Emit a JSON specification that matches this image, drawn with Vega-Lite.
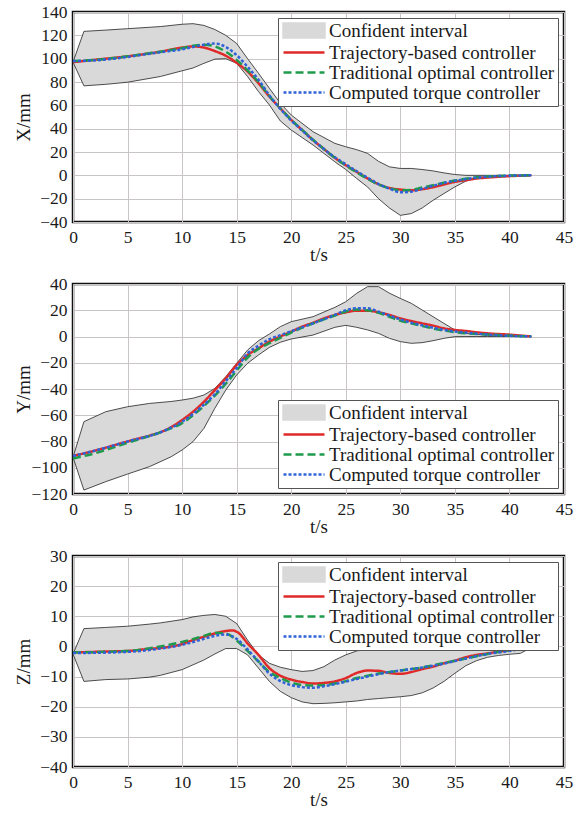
{
  "$schema": "https://vega.github.io/schema/vega-lite/v6.json",
  "background": "white",
  "padding": {"top": 1, "left": 12, "right": 4, "bottom": 0},
  "autosize": {"type": "pad"},
  "spacing": 62,
  "bounds": "flush",
  "datasets": {
    "bx": [
      {"t":0,"lo":97,"hi":97,"s":"Confident interval"},
      {"t":1,"lo":76.7,"hi":123.4,"s":"Confident interval"},
      {"t":3,"lo":78,"hi":124.5,"s":"Confident interval"},
      {"t":5,"lo":79.8,"hi":125.7,"s":"Confident interval"},
      {"t":8,"lo":84.7,"hi":127.5,"s":"Confident interval"},
      {"t":10,"lo":89.6,"hi":129.5,"s":"Confident interval"},
      {"t":11,"lo":92,"hi":130,"s":"Confident interval"},
      {"t":12,"lo":96,"hi":128.5,"s":"Confident interval"},
      {"t":13,"lo":99.6,"hi":125,"s":"Confident interval"},
      {"t":14,"lo":100,"hi":120,"s":"Confident interval"},
      {"t":15,"lo":96,"hi":113,"s":"Confident interval"},
      {"t":16,"lo":84.7,"hi":100,"s":"Confident interval"},
      {"t":17,"lo":71.8,"hi":87.5,"s":"Confident interval"},
      {"t":18,"lo":60.3,"hi":74.6,"s":"Confident interval"},
      {"t":19,"lo":46.6,"hi":61.8,"s":"Confident interval"},
      {"t":20,"lo":38.8,"hi":51.7,"s":"Confident interval"},
      {"t":22,"lo":26,"hi":37.4,"s":"Confident interval"},
      {"t":24,"lo":11.6,"hi":27.4,"s":"Confident interval"},
      {"t":25,"lo":5,"hi":24.5,"s":"Confident interval"},
      {"t":26,"lo":-2.7,"hi":22,"s":"Confident interval"},
      {"t":27,"lo":-10,"hi":18.8,"s":"Confident interval"},
      {"t":28,"lo":-20,"hi":12,"s":"Confident interval"},
      {"t":29,"lo":-28,"hi":7.3,"s":"Confident interval"},
      {"t":30,"lo":-34.3,"hi":5.9,"s":"Confident interval"},
      {"t":31,"lo":-32.8,"hi":5.9,"s":"Confident interval"},
      {"t":32,"lo":-28,"hi":5,"s":"Confident interval"},
      {"t":33,"lo":-21.4,"hi":3.8,"s":"Confident interval"},
      {"t":34,"lo":-15.6,"hi":2.1,"s":"Confident interval"},
      {"t":35,"lo":-9.9,"hi":0.7,"s":"Confident interval"},
      {"t":36,"lo":-5,"hi":0,"s":"Confident interval"},
      {"t":37,"lo":-2.2,"hi":0,"s":"Confident interval"},
      {"t":38,"lo":-0.8,"hi":0,"s":"Confident interval"},
      {"t":40,"lo":0,"hi":0,"s":"Confident interval"},
      {"t":42,"lo":0,"hi":0,"s":"Confident interval"}
    ],
    "lx": [
      {"t":0,"s":"Trajectory-based controller","v":97},
      {"t":2,"s":"Trajectory-based controller","v":99},
      {"t":5,"s":"Trajectory-based controller","v":102},
      {"t":8,"s":"Trajectory-based controller","v":106},
      {"t":10,"s":"Trajectory-based controller","v":109.5},
      {"t":11,"s":"Trajectory-based controller","v":110.5},
      {"t":12,"s":"Trajectory-based controller","v":109.5},
      {"t":13,"s":"Trajectory-based controller","v":106.5},
      {"t":14,"s":"Trajectory-based controller","v":102.5},
      {"t":15,"s":"Trajectory-based controller","v":96.5},
      {"t":16,"s":"Trajectory-based controller","v":89},
      {"t":17,"s":"Trajectory-based controller","v":79},
      {"t":18,"s":"Trajectory-based controller","v":67.5},
      {"t":19,"s":"Trajectory-based controller","v":57.5},
      {"t":20,"s":"Trajectory-based controller","v":47.5},
      {"t":21,"s":"Trajectory-based controller","v":38.8},
      {"t":22,"s":"Trajectory-based controller","v":30.2},
      {"t":23,"s":"Trajectory-based controller","v":22.5},
      {"t":24,"s":"Trajectory-based controller","v":15},
      {"t":25,"s":"Trajectory-based controller","v":8.7},
      {"t":26,"s":"Trajectory-based controller","v":3},
      {"t":27,"s":"Trajectory-based controller","v":-2.7},
      {"t":28,"s":"Trajectory-based controller","v":-7.6},
      {"t":29,"s":"Trajectory-based controller","v":-10.8},
      {"t":30,"s":"Trajectory-based controller","v":-12.2},
      {"t":31,"s":"Trajectory-based controller","v":-12.8},
      {"t":32,"s":"Trajectory-based controller","v":-11.9},
      {"t":33,"s":"Trajectory-based controller","v":-10.2},
      {"t":34,"s":"Trajectory-based controller","v":-7.9},
      {"t":35,"s":"Trajectory-based controller","v":-5.6},
      {"t":36,"s":"Trajectory-based controller","v":-4.2},
      {"t":37,"s":"Trajectory-based controller","v":-2.7},
      {"t":38,"s":"Trajectory-based controller","v":-1.9},
      {"t":40,"s":"Trajectory-based controller","v":-0.7},
      {"t":42,"s":"Trajectory-based controller","v":0},
      {"t":0,"s":"Traditional optimal controller","v":98},
      {"t":2,"s":"Traditional optimal controller","v":99},
      {"t":5,"s":"Traditional optimal controller","v":102},
      {"t":8,"s":"Traditional optimal controller","v":106},
      {"t":10,"s":"Traditional optimal controller","v":109},
      {"t":11,"s":"Traditional optimal controller","v":111},
      {"t":12,"s":"Traditional optimal controller","v":112},
      {"t":13,"s":"Traditional optimal controller","v":110.5},
      {"t":14,"s":"Traditional optimal controller","v":106},
      {"t":15,"s":"Traditional optimal controller","v":99},
      {"t":16,"s":"Traditional optimal controller","v":90},
      {"t":17,"s":"Traditional optimal controller","v":80},
      {"t":18,"s":"Traditional optimal controller","v":68},
      {"t":19,"s":"Traditional optimal controller","v":57.5},
      {"t":20,"s":"Traditional optimal controller","v":47.5},
      {"t":21,"s":"Traditional optimal controller","v":39},
      {"t":22,"s":"Traditional optimal controller","v":30.5},
      {"t":23,"s":"Traditional optimal controller","v":22.5},
      {"t":24,"s":"Traditional optimal controller","v":15},
      {"t":25,"s":"Traditional optimal controller","v":8.5},
      {"t":26,"s":"Traditional optimal controller","v":2.5},
      {"t":27,"s":"Traditional optimal controller","v":-3},
      {"t":28,"s":"Traditional optimal controller","v":-8},
      {"t":29,"s":"Traditional optimal controller","v":-11},
      {"t":30,"s":"Traditional optimal controller","v":-12.8},
      {"t":31,"s":"Traditional optimal controller","v":-12.5},
      {"t":32,"s":"Traditional optimal controller","v":-10.5},
      {"t":33,"s":"Traditional optimal controller","v":-8.5},
      {"t":34,"s":"Traditional optimal controller","v":-6.3},
      {"t":35,"s":"Traditional optimal controller","v":-4.5},
      {"t":36,"s":"Traditional optimal controller","v":-3},
      {"t":37,"s":"Traditional optimal controller","v":-1.7},
      {"t":38,"s":"Traditional optimal controller","v":-1},
      {"t":40,"s":"Traditional optimal controller","v":-0.2},
      {"t":42,"s":"Traditional optimal controller","v":0},
      {"t":0,"s":"Computed torque controller","v":98},
      {"t":2,"s":"Computed torque controller","v":98.5},
      {"t":5,"s":"Computed torque controller","v":101.5},
      {"t":8,"s":"Computed torque controller","v":105.5},
      {"t":10,"s":"Computed torque controller","v":108},
      {"t":11,"s":"Computed torque controller","v":110},
      {"t":12,"s":"Computed torque controller","v":112},
      {"t":13,"s":"Computed torque controller","v":113},
      {"t":14,"s":"Computed torque controller","v":110},
      {"t":15,"s":"Computed torque controller","v":103},
      {"t":16,"s":"Computed torque controller","v":93},
      {"t":17,"s":"Computed torque controller","v":82},
      {"t":18,"s":"Computed torque controller","v":68.5},
      {"t":19,"s":"Computed torque controller","v":57},
      {"t":20,"s":"Computed torque controller","v":47},
      {"t":21,"s":"Computed torque controller","v":38.5},
      {"t":22,"s":"Computed torque controller","v":30},
      {"t":23,"s":"Computed torque controller","v":22.5},
      {"t":24,"s":"Computed torque controller","v":15.5},
      {"t":25,"s":"Computed torque controller","v":9.5},
      {"t":26,"s":"Computed torque controller","v":3.5},
      {"t":27,"s":"Computed torque controller","v":-2},
      {"t":28,"s":"Computed torque controller","v":-7.5},
      {"t":29,"s":"Computed torque controller","v":-11.5},
      {"t":30,"s":"Computed torque controller","v":-14.5},
      {"t":31,"s":"Computed torque controller","v":-14},
      {"t":32,"s":"Computed torque controller","v":-11.5},
      {"t":33,"s":"Computed torque controller","v":-9},
      {"t":34,"s":"Computed torque controller","v":-6.5},
      {"t":35,"s":"Computed torque controller","v":-4.7},
      {"t":36,"s":"Computed torque controller","v":-3.2},
      {"t":37,"s":"Computed torque controller","v":-2},
      {"t":38,"s":"Computed torque controller","v":-1.2},
      {"t":40,"s":"Computed torque controller","v":-0.3},
      {"t":42,"s":"Computed torque controller","v":0}
    ],
    "by": [
      {"t":0,"lo":-92,"hi":-92,"s":"Confident interval"},
      {"t":1,"lo":-117,"hi":-64.9,"s":"Confident interval"},
      {"t":3,"lo":-110.6,"hi":-57.3,"s":"Confident interval"},
      {"t":5,"lo":-104.8,"hi":-53.5,"s":"Confident interval"},
      {"t":7,"lo":-99.2,"hi":-51,"s":"Confident interval"},
      {"t":9,"lo":-91.6,"hi":-49.5,"s":"Confident interval"},
      {"t":10,"lo":-86.5,"hi":-48.4,"s":"Confident interval"},
      {"t":11,"lo":-80.1,"hi":-47,"s":"Confident interval"},
      {"t":12,"lo":-70,"hi":-44.6,"s":"Confident interval"},
      {"t":13,"lo":-54.7,"hi":-39.5,"s":"Confident interval"},
      {"t":14,"lo":-40.8,"hi":-30.6,"s":"Confident interval"},
      {"t":15,"lo":-29.3,"hi":-20.4,"s":"Confident interval"},
      {"t":16,"lo":-20.4,"hi":-10.3,"s":"Confident interval"},
      {"t":17,"lo":-14.1,"hi":-3.2,"s":"Confident interval"},
      {"t":18,"lo":-8.3,"hi":1.9,"s":"Confident interval"},
      {"t":19,"lo":-4.4,"hi":7.5,"s":"Confident interval"},
      {"t":20,"lo":-1.9,"hi":11.3,"s":"Confident interval"},
      {"t":22,"lo":1.1,"hi":15.1,"s":"Confident interval"},
      {"t":24,"lo":7,"hi":22.2,"s":"Confident interval"},
      {"t":25,"lo":8.5,"hi":26.5,"s":"Confident interval"},
      {"t":26,"lo":7,"hi":32.9,"s":"Confident interval"},
      {"t":27,"lo":5,"hi":38,"s":"Confident interval"},
      {"t":28,"lo":2.4,"hi":38,"s":"Confident interval"},
      {"t":29,"lo":-1.4,"hi":33,"s":"Confident interval"},
      {"t":30,"lo":-3.9,"hi":29,"s":"Confident interval"},
      {"t":31,"lo":-5.2,"hi":25.3,"s":"Confident interval"},
      {"t":32,"lo":-4.7,"hi":20.2,"s":"Confident interval"},
      {"t":33,"lo":-3.2,"hi":15.1,"s":"Confident interval"},
      {"t":34,"lo":-1.4,"hi":10,"s":"Confident interval"},
      {"t":35,"lo":-0.1,"hi":5,"s":"Confident interval"},
      {"t":36,"lo":0,"hi":2.4,"s":"Confident interval"},
      {"t":37,"lo":0,"hi":1.6,"s":"Confident interval"},
      {"t":38,"lo":0,"hi":1.1,"s":"Confident interval"},
      {"t":40,"lo":0,"hi":0.6,"s":"Confident interval"},
      {"t":42,"lo":0,"hi":0,"s":"Confident interval"}
    ],
    "ly": [
      {"t":0,"s":"Trajectory-based controller","v":-91},
      {"t":2,"s":"Trajectory-based controller","v":-87},
      {"t":5,"s":"Trajectory-based controller","v":-80},
      {"t":7,"s":"Trajectory-based controller","v":-75.5},
      {"t":8,"s":"Trajectory-based controller","v":-73},
      {"t":9,"s":"Trajectory-based controller","v":-69},
      {"t":10,"s":"Trajectory-based controller","v":-63.6},
      {"t":11,"s":"Trajectory-based controller","v":-57.3},
      {"t":12,"s":"Trajectory-based controller","v":-49.7},
      {"t":13,"s":"Trajectory-based controller","v":-40.8},
      {"t":14,"s":"Trajectory-based controller","v":-31.9},
      {"t":15,"s":"Trajectory-based controller","v":-21.7},
      {"t":16,"s":"Trajectory-based controller","v":-14.1},
      {"t":17,"s":"Trajectory-based controller","v":-9},
      {"t":18,"s":"Trajectory-based controller","v":-3.9},
      {"t":19,"s":"Trajectory-based controller","v":0},
      {"t":20,"s":"Trajectory-based controller","v":3.7},
      {"t":21,"s":"Trajectory-based controller","v":7.5},
      {"t":22,"s":"Trajectory-based controller","v":10.5},
      {"t":23,"s":"Trajectory-based controller","v":13.8},
      {"t":24,"s":"Trajectory-based controller","v":16.4},
      {"t":25,"s":"Trajectory-based controller","v":18.4},
      {"t":26,"s":"Trajectory-based controller","v":19.7},
      {"t":27,"s":"Trajectory-based controller","v":19.7},
      {"t":28,"s":"Trajectory-based controller","v":18.4},
      {"t":29,"s":"Trajectory-based controller","v":16.4},
      {"t":30,"s":"Trajectory-based controller","v":13.8},
      {"t":31,"s":"Trajectory-based controller","v":11.8},
      {"t":32,"s":"Trajectory-based controller","v":10},
      {"t":33,"s":"Trajectory-based controller","v":8.3},
      {"t":34,"s":"Trajectory-based controller","v":6.2},
      {"t":35,"s":"Trajectory-based controller","v":5},
      {"t":36,"s":"Trajectory-based controller","v":4.2},
      {"t":37,"s":"Trajectory-based controller","v":3.2},
      {"t":38,"s":"Trajectory-based controller","v":2.4},
      {"t":40,"s":"Trajectory-based controller","v":1.4},
      {"t":42,"s":"Trajectory-based controller","v":0},
      {"t":0,"s":"Traditional optimal controller","v":-93},
      {"t":2,"s":"Traditional optimal controller","v":-89},
      {"t":5,"s":"Traditional optimal controller","v":-81},
      {"t":8,"s":"Traditional optimal controller","v":-73},
      {"t":10,"s":"Traditional optimal controller","v":-66},
      {"t":11,"s":"Traditional optimal controller","v":-60},
      {"t":12,"s":"Traditional optimal controller","v":-53},
      {"t":13,"s":"Traditional optimal controller","v":-45},
      {"t":14,"s":"Traditional optimal controller","v":-36},
      {"t":15,"s":"Traditional optimal controller","v":-26},
      {"t":16,"s":"Traditional optimal controller","v":-16},
      {"t":17,"s":"Traditional optimal controller","v":-9.5},
      {"t":18,"s":"Traditional optimal controller","v":-5},
      {"t":19,"s":"Traditional optimal controller","v":-1},
      {"t":20,"s":"Traditional optimal controller","v":3},
      {"t":22,"s":"Traditional optimal controller","v":10},
      {"t":24,"s":"Traditional optimal controller","v":16},
      {"t":25,"s":"Traditional optimal controller","v":19},
      {"t":26,"s":"Traditional optimal controller","v":20.5},
      {"t":27,"s":"Traditional optimal controller","v":20},
      {"t":28,"s":"Traditional optimal controller","v":18},
      {"t":29,"s":"Traditional optimal controller","v":15},
      {"t":30,"s":"Traditional optimal controller","v":12},
      {"t":31,"s":"Traditional optimal controller","v":10},
      {"t":32,"s":"Traditional optimal controller","v":8},
      {"t":34,"s":"Traditional optimal controller","v":4.5},
      {"t":36,"s":"Traditional optimal controller","v":2.5},
      {"t":38,"s":"Traditional optimal controller","v":1.5},
      {"t":40,"s":"Traditional optimal controller","v":0.7},
      {"t":42,"s":"Traditional optimal controller","v":0},
      {"t":0,"s":"Computed torque controller","v":-91},
      {"t":2,"s":"Computed torque controller","v":-87},
      {"t":5,"s":"Computed torque controller","v":-80},
      {"t":8,"s":"Computed torque controller","v":-73},
      {"t":10,"s":"Computed torque controller","v":-65},
      {"t":11,"s":"Computed torque controller","v":-59},
      {"t":12,"s":"Computed torque controller","v":-52},
      {"t":13,"s":"Computed torque controller","v":-44},
      {"t":14,"s":"Computed torque controller","v":-34},
      {"t":15,"s":"Computed torque controller","v":-24},
      {"t":16,"s":"Computed torque controller","v":-13},
      {"t":17,"s":"Computed torque controller","v":-7},
      {"t":18,"s":"Computed torque controller","v":-2},
      {"t":19,"s":"Computed torque controller","v":1},
      {"t":20,"s":"Computed torque controller","v":4},
      {"t":22,"s":"Computed torque controller","v":10},
      {"t":24,"s":"Computed torque controller","v":16.5},
      {"t":25,"s":"Computed torque controller","v":20},
      {"t":26,"s":"Computed torque controller","v":21.5},
      {"t":27,"s":"Computed torque controller","v":21.5},
      {"t":28,"s":"Computed torque controller","v":19},
      {"t":29,"s":"Computed torque controller","v":16},
      {"t":30,"s":"Computed torque controller","v":13},
      {"t":31,"s":"Computed torque controller","v":10.5},
      {"t":32,"s":"Computed torque controller","v":8.5},
      {"t":34,"s":"Computed torque controller","v":5},
      {"t":36,"s":"Computed torque controller","v":3},
      {"t":38,"s":"Computed torque controller","v":1.5},
      {"t":40,"s":"Computed torque controller","v":0.5},
      {"t":42,"s":"Computed torque controller","v":0}
    ],
    "bz": [
      {"t":0,"lo":-2.5,"hi":-2.5,"s":"Confident interval"},
      {"t":1,"lo":-11.6,"hi":5.9,"s":"Confident interval"},
      {"t":3,"lo":-11,"hi":6.3,"s":"Confident interval"},
      {"t":5,"lo":-10.8,"hi":6.7,"s":"Confident interval"},
      {"t":7,"lo":-10.2,"hi":7.4,"s":"Confident interval"},
      {"t":8,"lo":-9.6,"hi":7.8,"s":"Confident interval"},
      {"t":10,"lo":-7.7,"hi":8.9,"s":"Confident interval"},
      {"t":11,"lo":-6.1,"hi":9.8,"s":"Confident interval"},
      {"t":12,"lo":-4.5,"hi":10.3,"s":"Confident interval"},
      {"t":13,"lo":-2.5,"hi":10.6,"s":"Confident interval"},
      {"t":14,"lo":-0.7,"hi":10,"s":"Confident interval"},
      {"t":15,"lo":-0.7,"hi":7.6,"s":"Confident interval"},
      {"t":16,"lo":-2.8,"hi":2.1,"s":"Confident interval"},
      {"t":17,"lo":-7.2,"hi":-2.8,"s":"Confident interval"},
      {"t":18,"lo":-11.6,"hi":-5.6,"s":"Confident interval"},
      {"t":19,"lo":-14.9,"hi":-6.9,"s":"Confident interval"},
      {"t":20,"lo":-17,"hi":-7.7,"s":"Confident interval"},
      {"t":21,"lo":-18.4,"hi":-8.3,"s":"Confident interval"},
      {"t":22,"lo":-19,"hi":-8,"s":"Confident interval"},
      {"t":23,"lo":-18.9,"hi":-6.7,"s":"Confident interval"},
      {"t":24,"lo":-18.7,"hi":-4.5,"s":"Confident interval"},
      {"t":25,"lo":-18.4,"hi":-2.8,"s":"Confident interval"},
      {"t":26,"lo":-18.1,"hi":-1.5,"s":"Confident interval"},
      {"t":27,"lo":-17.6,"hi":-0.9,"s":"Confident interval"},
      {"t":28,"lo":-17.3,"hi":-0.3,"s":"Confident interval"},
      {"t":30,"lo":-16.7,"hi":0.1,"s":"Confident interval"},
      {"t":31,"lo":-16.3,"hi":0.3,"s":"Confident interval"},
      {"t":32,"lo":-15.4,"hi":0.5,"s":"Confident interval"},
      {"t":33,"lo":-13.8,"hi":0.4,"s":"Confident interval"},
      {"t":34,"lo":-11.6,"hi":0,"s":"Confident interval"},
      {"t":35,"lo":-8.9,"hi":-0.5,"s":"Confident interval"},
      {"t":36,"lo":-6.4,"hi":-0.5,"s":"Confident interval"},
      {"t":37,"lo":-4.7,"hi":-0.5,"s":"Confident interval"},
      {"t":38,"lo":-3.6,"hi":-0.4,"s":"Confident interval"},
      {"t":39,"lo":-3,"hi":-0.2,"s":"Confident interval"},
      {"t":40,"lo":-2.6,"hi":0,"s":"Confident interval"},
      {"t":41,"lo":-2.3,"hi":0.1,"s":"Confident interval"},
      {"t":42,"lo":-0.4,"hi":-0.4,"s":"Confident interval"}
    ],
    "lz": [
      {"t":0,"s":"Trajectory-based controller","v":-2},
      {"t":3,"s":"Trajectory-based controller","v":-1.7},
      {"t":5,"s":"Trajectory-based controller","v":-1.5},
      {"t":7,"s":"Trajectory-based controller","v":-0.8},
      {"t":8,"s":"Trajectory-based controller","v":-0.5},
      {"t":10,"s":"Trajectory-based controller","v":0.8},
      {"t":11,"s":"Trajectory-based controller","v":2.1},
      {"t":12,"s":"Trajectory-based controller","v":3.2},
      {"t":13,"s":"Trajectory-based controller","v":4.3},
      {"t":14,"s":"Trajectory-based controller","v":5.1},
      {"t":14.6,"s":"Trajectory-based controller","v":5.3},
      {"t":15.2,"s":"Trajectory-based controller","v":4.4},
      {"t":16,"s":"Trajectory-based controller","v":1},
      {"t":17,"s":"Trajectory-based controller","v":-2.8},
      {"t":18,"s":"Trajectory-based controller","v":-7.2},
      {"t":19,"s":"Trajectory-based controller","v":-9.7},
      {"t":20,"s":"Trajectory-based controller","v":-11},
      {"t":21,"s":"Trajectory-based controller","v":-11.8},
      {"t":22,"s":"Trajectory-based controller","v":-12.3},
      {"t":23,"s":"Trajectory-based controller","v":-12.1},
      {"t":24,"s":"Trajectory-based controller","v":-11.6},
      {"t":25,"s":"Trajectory-based controller","v":-10.5},
      {"t":26,"s":"Trajectory-based controller","v":-8.8},
      {"t":27,"s":"Trajectory-based controller","v":-8},
      {"t":28,"s":"Trajectory-based controller","v":-8.1},
      {"t":29,"s":"Trajectory-based controller","v":-8.8},
      {"t":30,"s":"Trajectory-based controller","v":-9.1},
      {"t":31,"s":"Trajectory-based controller","v":-8.5},
      {"t":32,"s":"Trajectory-based controller","v":-7.5},
      {"t":33,"s":"Trajectory-based controller","v":-6.7},
      {"t":34,"s":"Trajectory-based controller","v":-5.6},
      {"t":35,"s":"Trajectory-based controller","v":-4.7},
      {"t":36,"s":"Trajectory-based controller","v":-3.6},
      {"t":37,"s":"Trajectory-based controller","v":-2.8},
      {"t":38,"s":"Trajectory-based controller","v":-2.3},
      {"t":40,"s":"Trajectory-based controller","v":-1.2},
      {"t":42,"s":"Trajectory-based controller","v":-0.3},
      {"t":0,"s":"Traditional optimal controller","v":-2},
      {"t":5,"s":"Traditional optimal controller","v":-1.5},
      {"t":8,"s":"Traditional optimal controller","v":0},
      {"t":10,"s":"Traditional optimal controller","v":1.5},
      {"t":12,"s":"Traditional optimal controller","v":3.5},
      {"t":13,"s":"Traditional optimal controller","v":4.5},
      {"t":14,"s":"Traditional optimal controller","v":4.3},
      {"t":15,"s":"Traditional optimal controller","v":2},
      {"t":16,"s":"Traditional optimal controller","v":-1.5},
      {"t":17,"s":"Traditional optimal controller","v":-5},
      {"t":18,"s":"Traditional optimal controller","v":-8.5},
      {"t":19,"s":"Traditional optimal controller","v":-10.5},
      {"t":20,"s":"Traditional optimal controller","v":-12},
      {"t":21,"s":"Traditional optimal controller","v":-12.8},
      {"t":22,"s":"Traditional optimal controller","v":-13},
      {"t":23,"s":"Traditional optimal controller","v":-12.8},
      {"t":24,"s":"Traditional optimal controller","v":-12.3},
      {"t":25,"s":"Traditional optimal controller","v":-11.5},
      {"t":26,"s":"Traditional optimal controller","v":-10.5},
      {"t":27,"s":"Traditional optimal controller","v":-9.7},
      {"t":28,"s":"Traditional optimal controller","v":-9},
      {"t":29,"s":"Traditional optimal controller","v":-8.5},
      {"t":30,"s":"Traditional optimal controller","v":-8},
      {"t":32,"s":"Traditional optimal controller","v":-7},
      {"t":34,"s":"Traditional optimal controller","v":-5.5},
      {"t":36,"s":"Traditional optimal controller","v":-4},
      {"t":38,"s":"Traditional optimal controller","v":-2.5},
      {"t":40,"s":"Traditional optimal controller","v":-1.2},
      {"t":42,"s":"Traditional optimal controller","v":0},
      {"t":0,"s":"Computed torque controller","v":-2.2},
      {"t":5,"s":"Computed torque controller","v":-1.8},
      {"t":8,"s":"Computed torque controller","v":-0.7},
      {"t":10,"s":"Computed torque controller","v":0.5},
      {"t":12,"s":"Computed torque controller","v":2.5},
      {"t":13,"s":"Computed torque controller","v":3.5},
      {"t":14,"s":"Computed torque controller","v":4},
      {"t":15,"s":"Computed torque controller","v":2.5},
      {"t":16,"s":"Computed torque controller","v":-1},
      {"t":17,"s":"Computed torque controller","v":-5},
      {"t":18,"s":"Computed torque controller","v":-9},
      {"t":19,"s":"Computed torque controller","v":-11.5},
      {"t":20,"s":"Computed torque controller","v":-12.8},
      {"t":21,"s":"Computed torque controller","v":-13.5},
      {"t":22,"s":"Computed torque controller","v":-13.7},
      {"t":23,"s":"Computed torque controller","v":-13.2},
      {"t":24,"s":"Computed torque controller","v":-12.5},
      {"t":25,"s":"Computed torque controller","v":-11.7},
      {"t":26,"s":"Computed torque controller","v":-10.8},
      {"t":27,"s":"Computed torque controller","v":-10},
      {"t":28,"s":"Computed torque controller","v":-9.2},
      {"t":29,"s":"Computed torque controller","v":-8.5},
      {"t":30,"s":"Computed torque controller","v":-8},
      {"t":32,"s":"Computed torque controller","v":-7},
      {"t":34,"s":"Computed torque controller","v":-5.7},
      {"t":36,"s":"Computed torque controller","v":-4},
      {"t":38,"s":"Computed torque controller","v":-2.5},
      {"t":40,"s":"Computed torque controller","v":-1.5},
      {"t":42,"s":"Computed torque controller","v":-0.3}
    ]
  },
  "vconcat": [
    {
      "width": 491, "height": 210,
      "layer": [
        {
          "data": {"name": "bx"},
          "mark": {"type": "area", "stroke": "#222222", "strokeWidth": 0.8, "opacity": 1},
          "encoding": {
            "x": {"field": "t", "type": "quantitative", "title": "t/s", "scale": {"domain": [0, 45], "nice": false}, "axis": {"values": [0,5,10,15,20,25,30,35,40,45]}},
            "y": {"field": "lo", "type": "quantitative", "title": "X/mm", "scale": {"domain": [-40, 140], "nice": false}, "axis": {"values": [-40,-20,0,20,40,60,80,100,120,140]}},
            "y2": {"field": "hi"},
            "color": {"field": "s", "type": "nominal",
              "scale": {"domain": ["Confident interval","Trajectory-based controller","Traditional optimal controller","Computed torque controller"], "range": ["#d9d9d9","#e02a2a","#1f9a4b","#2f62d8"]},
              "legend": {"orient": "top-right"}}
          }
        },
        {
          "data": {"name": "lx"},
          "mark": {"type": "line", "strokeWidth": 2.5, "interpolate": "monotone"},
          "encoding": {
            "x": {"field": "t", "type": "quantitative", "title": "t/s", "axis": {"values": [0,5,10,15,20,25,30,35,40,45]}},
            "y": {"field": "v", "type": "quantitative", "title": "X/mm", "axis": {"values": [-40,-20,0,20,40,60,80,100,120,140]}},
            "color": {"field": "s", "type": "nominal", "legend": {"orient": "top-right"}},
            "strokeDash": {"field": "s", "type": "nominal", "legend": {"orient": "top-right"},
              "scale": {"domain": ["Confident interval","Trajectory-based controller","Traditional optimal controller","Computed torque controller"], "range": [[1,0],[1,0],[8,4],[3,2]]}}
          }
        },
        {
          "data": {"name": "lx"},
          "mark": {"type": "point", "opacity": 0},
          "encoding": {
            "x": {"field": "t", "type": "quantitative", "title": "t/s", "axis": {"values": [0,5,10,15,20,25,30,35,40,45]}},
            "y": {"field": "v", "type": "quantitative", "title": "X/mm", "axis": {"values": [-40,-20,0,20,40,60,80,100,120,140]}},
            "color": {"field": "s", "type": "nominal", "legend": {"orient": "top-right"}},
            "shape": {"field": "s", "type": "nominal", "legend": {"orient": "top-right"},
              "scale": {"domain": ["Confident interval","Trajectory-based controller","Traditional optimal controller","Computed torque controller"], "range": ["M-1,-1H4.857V1H-1Z","M-1,0H4.857","M-1,0H4.857","M-1,0H4.857"]}}
          }
        }
      ]
    },
    {
      "width": 491, "height": 210,
      "layer": [
        {
          "data": {"name": "by"},
          "mark": {"type": "area", "stroke": "#222222", "strokeWidth": 0.8, "opacity": 1},
          "encoding": {
            "x": {"field": "t", "type": "quantitative", "title": "t/s", "scale": {"domain": [0, 45], "nice": false}, "axis": {"values": [0,5,10,15,20,25,30,35,40,45]}},
            "y": {"field": "lo", "type": "quantitative", "title": "Y/mm", "scale": {"domain": [-120, 40], "nice": false}, "axis": {"values": [-120,-100,-80,-60,-40,-20,0,20,40]}},
            "y2": {"field": "hi"},
            "color": {"field": "s", "type": "nominal",
              "scale": {"domain": ["Confident interval","Trajectory-based controller","Traditional optimal controller","Computed torque controller"], "range": ["#d9d9d9","#e02a2a","#1f9a4b","#2f62d8"]},
              "legend": {"orient": "bottom-right"}}
          }
        },
        {
          "data": {"name": "ly"},
          "mark": {"type": "line", "strokeWidth": 2.5, "interpolate": "monotone"},
          "encoding": {
            "x": {"field": "t", "type": "quantitative", "title": "t/s", "axis": {"values": [0,5,10,15,20,25,30,35,40,45]}},
            "y": {"field": "v", "type": "quantitative", "title": "Y/mm", "axis": {"values": [-120,-100,-80,-60,-40,-20,0,20,40]}},
            "color": {"field": "s", "type": "nominal", "legend": {"orient": "bottom-right"}},
            "strokeDash": {"field": "s", "type": "nominal", "legend": {"orient": "bottom-right"},
              "scale": {"domain": ["Confident interval","Trajectory-based controller","Traditional optimal controller","Computed torque controller"], "range": [[1,0],[1,0],[8,4],[3,2]]}}
          }
        },
        {
          "data": {"name": "ly"},
          "mark": {"type": "point", "opacity": 0},
          "encoding": {
            "x": {"field": "t", "type": "quantitative", "title": "t/s", "axis": {"values": [0,5,10,15,20,25,30,35,40,45]}},
            "y": {"field": "v", "type": "quantitative", "title": "Y/mm", "axis": {"values": [-120,-100,-80,-60,-40,-20,0,20,40]}},
            "color": {"field": "s", "type": "nominal", "legend": {"orient": "bottom-right"}},
            "shape": {"field": "s", "type": "nominal", "legend": {"orient": "bottom-right"},
              "scale": {"domain": ["Confident interval","Trajectory-based controller","Traditional optimal controller","Computed torque controller"], "range": ["M-1,-1H4.857V1H-1Z","M-1,0H4.857","M-1,0H4.857","M-1,0H4.857"]}}
          }
        }
      ]
    },
    {
      "width": 491, "height": 211,
      "layer": [
        {
          "data": {"name": "bz"},
          "mark": {"type": "area", "stroke": "#222222", "strokeWidth": 0.8, "opacity": 1},
          "encoding": {
            "x": {"field": "t", "type": "quantitative", "title": "t/s", "scale": {"domain": [0, 45], "nice": false}, "axis": {"values": [0,5,10,15,20,25,30,35,40,45]}},
            "y": {"field": "lo", "type": "quantitative", "title": "Z/mm", "scale": {"domain": [-40, 30], "nice": false}, "axis": {"values": [-40,-30,-20,-10,0,10,20,30]}},
            "y2": {"field": "hi"},
            "color": {"field": "s", "type": "nominal",
              "scale": {"domain": ["Confident interval","Trajectory-based controller","Traditional optimal controller","Computed torque controller"], "range": ["#d9d9d9","#e02a2a","#1f9a4b","#2f62d8"]},
              "legend": {"orient": "top-right"}}
          }
        },
        {
          "data": {"name": "lz"},
          "mark": {"type": "line", "strokeWidth": 2.5, "interpolate": "monotone"},
          "encoding": {
            "x": {"field": "t", "type": "quantitative", "title": "t/s", "axis": {"values": [0,5,10,15,20,25,30,35,40,45]}},
            "y": {"field": "v", "type": "quantitative", "title": "Z/mm", "axis": {"values": [-40,-30,-20,-10,0,10,20,30]}},
            "color": {"field": "s", "type": "nominal", "legend": {"orient": "top-right"}},
            "strokeDash": {"field": "s", "type": "nominal", "legend": {"orient": "top-right"},
              "scale": {"domain": ["Confident interval","Trajectory-based controller","Traditional optimal controller","Computed torque controller"], "range": [[1,0],[1,0],[8,4],[3,2]]}}
          }
        },
        {
          "data": {"name": "lz"},
          "mark": {"type": "point", "opacity": 0},
          "encoding": {
            "x": {"field": "t", "type": "quantitative", "title": "t/s", "axis": {"values": [0,5,10,15,20,25,30,35,40,45]}},
            "y": {"field": "v", "type": "quantitative", "title": "Z/mm", "axis": {"values": [-40,-30,-20,-10,0,10,20,30]}},
            "color": {"field": "s", "type": "nominal", "legend": {"orient": "top-right"}},
            "shape": {"field": "s", "type": "nominal", "legend": {"orient": "top-right"},
              "scale": {"domain": ["Confident interval","Trajectory-based controller","Traditional optimal controller","Computed torque controller"], "range": ["M-1,-1H4.857V1H-1Z","M-1,0H4.857","M-1,0H4.857","M-1,0H4.857"]}}
          }
        }
      ]
    }
  ],
  "resolve": {
    "scale": {"color": "independent", "strokeDash": "independent", "shape": "independent", "x": "independent", "y": "independent"},
    "legend": {"color": "independent", "strokeDash": "independent", "shape": "independent"}
  },
  "config": {
    "font": "Liberation Serif",
    "view": {"stroke": "#111111", "strokeWidth": 2.5},
    "axis": {
      "labelFont": "Liberation Serif", "labelFontSize": 17.5, "labelColor": "#1a1a1a",
      "titleFont": "Liberation Serif", "titleFontSize": 19, "titleFontWeight": "normal", "titleColor": "#1a1a1a",
      "grid": true, "gridColor": "#c9c5c5", "gridWidth": 1,
      "domain": false, "ticks": false, "labelOverlap": false, "labelFlush": false
    },
    "axisX": {"labelPadding": 6, "titlePadding": 0},
    "axisY": {"labelPadding": 6, "titleX": -50, "titleBaseline": "middle"},
    "legend": {
      "title": null, "offset": 6, "padding": 3, "rowPadding": 0, "labelLimit": 0,
      "fillColor": "white", "strokeColor": "#555555", "strokeWidth": 1,
      "labelFont": "Liberation Serif", "labelFontSize": 19, "labelColor": "#1a1a1a",
      "symbolSize": 196, "symbolStrokeWidth": 2.5, "symbolOpacity": 1, "labelOffset": 29
    }
  }
}
